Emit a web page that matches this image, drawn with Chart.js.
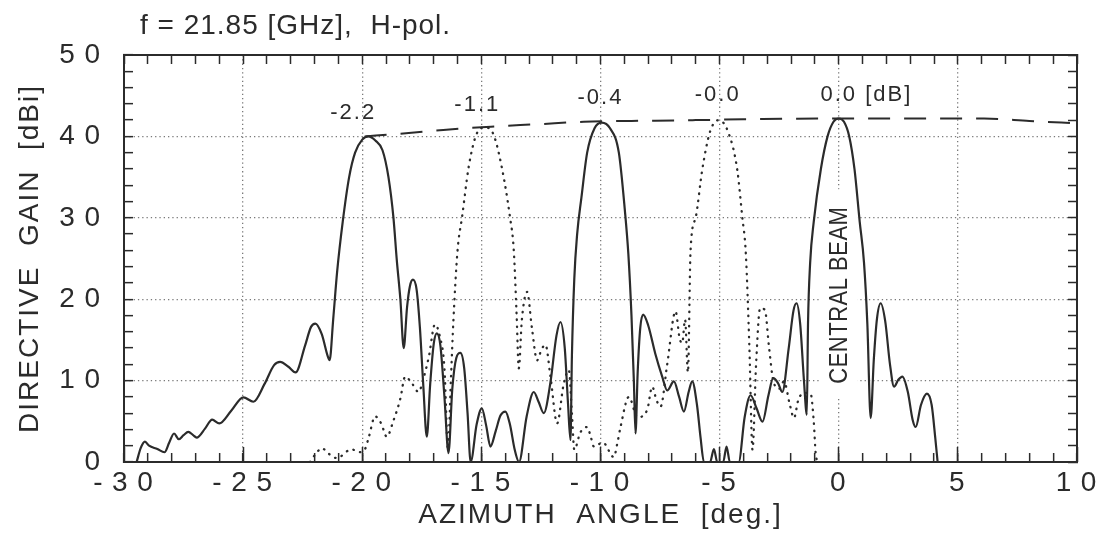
<!DOCTYPE html>
<html>
<head>
<meta charset="utf-8">
<script src="https://cdn.jsdelivr.net/npm/chart.js@4.4.1/dist/chart.umd.min.js"></script>
<style>
  html, body { margin: 0; padding: 0; background: #fff; }
  #wrap { width: 1101px; height: 550px; }
</style>
</head>
<body>
<div id="wrap"><canvas id="antenna" width="1101" height="550"></canvas></div>
<script>
// Ganancia directiva vs. angulo de azimut
var solidAngle = [-29.47, -29.3, -29.12, -28.95, -28.6, -28.3, -28.1, -27.9, -27.7, -27.5, -27.3, -27.1, -26.95, -26.6, -26.3, -26.0,
  -25.5, -24.99, -24.57, -24.1, -23.7, -23.45, -23.1, -22.8, -22.4, -22.15, -21.97, -21.7, -21.45, -21.37, -21.22, -21.05,
  -20.82, -20.55, -20.3, -20.0, -19.75, -19.45, -19.15, -18.9, -18.69, -18.55, -18.4, -18.26, -18.12, -18.0, -17.87, -17.72,
  -17.58, -17.44, -17.29, -17.15, -17.0, -16.87, -16.72, -16.55, -16.38, -16.22, -16.05, -15.88, -15.72, -15.58, -15.45,
  -15.2, -14.98, -14.8, -14.62, -14.4, -14.2, -13.99, -13.8, -13.6, -13.42, -13.1, -12.8, -12.6, -12.38, -12.1, -11.85,
  -11.68, -11.5, -11.36, -11.26, -11.2, -11.1, -10.98, -10.8, -10.56, -10.25, -9.95, -9.6, -9.23, -8.98, -8.83, -8.7, -8.6,
  -8.53, -8.44, -8.33, -8.21, -8.0, -7.7, -7.4, -7.2, -6.92, -6.7, -6.5, -6.3, -6.15, -5.95, -5.8, -5.66, -5.4, -5.24,
  -5.1, -4.85, -4.71, -4.57, -4.2, -3.95, -3.7, -3.45, -3.2, -2.95, -2.75, -2.55, -2.37, -2.1, -1.9, -1.77, -1.62, -1.46,
  -1.34, -1.29, -1.2, -1.05, -0.75, -0.47, -0.22, 0, 0.22, 0.44, 0.66, 0.88, 1.06, 1.2, 1.34, 1.47, 1.6, 1.76, 1.95, 2.15,
  2.32, 2.5, 2.67, 2.9, 3.1, 3.23, 3.45, 3.7, 3.9, 4.05, 4.15];
var solidGain = [0, 1.7, 2.5, 2.0, 1.6, 1.2, 2.4, 3.5, 2.8, 3.3, 3.7, 3.3, 3.0, 4.1, 5.2, 4.75,
  6.3, 7.95, 7.4, 9.6, 11.9, 12.3, 11.7, 11.0, 14.3, 16.6, 17.0, 15.7, 13.0, 12.5, 17.5, 23.5,
  29.5, 35.0, 38.0, 39.6, 40.0, 39.5, 38.3, 35.0, 30.0, 24.8, 20.0, 14.0, 19.0, 21.6, 22.4, 21.2,
  16.5, 9.5, 3.1, 9.5, 14.5, 15.8, 14.3, 8.0, 1.1, 9.0, 12.8, 13.4, 11.5, 6.0, 0,
  4.6, 6.6, 4.5, 1.9, 3.8, 5.7, 6.2, 4.6, 1.5, 0, 5.6, 8.6, 7.4, 6.0, 9.8, 15.5,
  17.2, 14.0, 7.0, 2.7, 13.0, 22.5, 28.0, 32.5, 38.0, 41.0, 41.7, 41.0, 38.0, 31.0, 25.5, 18.0, 10.0,
  3.5, 11.0, 16.5, 18.1, 16.8, 13.3, 10.4, 8.8, 9.9, 8.0, 6.2, 8.6, 9.9, 7.0, 3.0, 0, 0, 1.6,
  0, 0, 1.9, 0, 0, 5.5, 8.2, 6.6, 4.95, 8.2, 10.3, 9.7, 8.6, 14.0, 18.6, 19.5, 17.0, 10.0,
  5.8, 17.0, 24.5, 29.5, 36.0, 40.0, 41.8, 42.2, 41.8, 40.0, 36.0, 29.5, 24.5, 17.0, 5.4, 12.5, 17.5, 19.5, 17.3, 12.0,
  9.25, 10.1, 10.5, 8.6, 5.2, 4.3, 7.0, 8.4, 7.0, 3.0, 0];

var dottedAngle = [-22.2, -21.95, -21.7, -21.4, -21.1, -20.92, -20.65, -20.43, -20.15, -19.9, -19.73, -19.46, -19.2, -18.97,
  -18.7, -18.4, -18.2, -17.9, -17.64, -17.4, -17.2, -16.95, -16.75, -16.55, -16.4, -16.28, -16.18, -16.0, -15.81, -15.53,
  -15.2, -14.85, -14.5, -14.15, -13.8, -13.64, -13.52, -13.43, -13.3, -13.08, -12.88, -12.66, -12.48, -12.31, -12.1, -11.82,
  -11.55, -11.33, -11.2, -11.1, -10.85, -10.56, -10.4, -10.28, -9.9, -9.44, -9.3, -9.16, -8.81, -8.45, -8.04, -7.83, -7.65,
  -7.48, -7.2, -6.85, -6.68, -6.57, -6.45, -6.33, -6.22, -6.0, -5.73, -5.4, -5.03, -4.65, -4.26, -4.05, -3.9, -3.75, -3.62,
  -3.47, -3.3, -3.1, -2.93, -2.75, -2.5, -2.3, -2.05, -1.88, -1.7, -1.53, -1.35, -1.18, -1.05, -0.97, -0.9];
var dottedGain = [0, 1.0, 1.7, 1.0, 0.5, 0.65, 1.3, 1.55, 1.2, 1.5, 3.0, 5.6, 4.7, 3.1,
  5.0, 7.8, 10.5, 9.6, 8.6, 10.6, 13.0, 16.9, 15.5, 11.5, 1.5, 10.0, 17.0, 26.0, 30.1, 36.3,
  40.3, 41.1, 40.3, 36.3, 30.1, 26.0, 18.0, 11.5, 17.5, 20.9, 16.5, 12.5, 13.8, 14.4, 10.5, 4.75,
  9.5, 11.3, 6.0, 1.5, 3.6, 4.3, 3.0, 1.9, 2.4, 0.6, 2.2, 4.3, 8.0, 5.5, 6.4, 9.25, 7.6,
  6.8, 12.0, 18.5, 15.2, 14.6, 17.5, 11.0, 26.0, 30.1, 35.9, 40.6, 42.0, 40.6, 35.9, 30.1, 25.6, 14.0, 1.5,
  12.0, 18.9, 18.7, 14.2, 10.0, 9.0, 9.9, 7.0, 5.4, 7.6, 8.4, 8.5, 8.4, 5.0, 1.1, 0];

var envelopeAngle = [-19.9, -18.5, -16.6, -14.6, -12.6, -10.7, -8.7, -6.0, -4.0, 0, 4, 6.1, 8, 10];
var envelopeGain = [40.0, 40.3, 40.8, 41.2, 41.5, 41.8, 41.9, 42.0, 42.1, 42.2, 42.2, 42.2, 41.9, 41.6];

// Etiquetas de los picos (perdida relativa en dB)
var peakAngle = [-20.38, -15.17, -10.0, -5.08, 0];
var peakLevel = [42.9, 43.9, 44.7, 45.1, 45.1];
var peakText = ['-2.2', '-1.1', '-0.4', '-0.0', '0.0'];

var ink = '#2b2b2b';
var gridInk = '#7a7a7a';
var family = '"Liberation Sans", Arial, Helvetica, sans-serif';
Chart.defaults.font.family = family;
Chart.defaults.color = ink;

function toPoints(xs, ys) {
  return xs.map(function (x, i) { return { x: x, y: ys[i] }; });
}
function spaced(v) {
  return String(v).split('').join('\u2009');
}
function noEdgePadding(s) {
  s.paddingLeft = 0;
  s.paddingRight = 0;
  s.paddingTop = 0;
  s.paddingBottom = 0;
}

// Textos sobre el grafico: titulo, valores de pico y "CENTRAL BEAM"
var annotations = {
  id: 'annotations',
  beforeDraw: function (chart) {
    chart.ctx.letterSpacing = '2px';
  },
  beforeDatasetsDraw: function (chart) {
    var ctx = chart.ctx, x = chart.scales.x, y = chart.scales.y;
    var cx = x.getPixelForValue(0);
    var top = y.getPixelForValue(33.5), bottom = y.getPixelForValue(8);
    ctx.save();
    ctx.fillStyle = '#fff';
    ctx.fillRect(cx - 18, top, 37, bottom - top);
    ctx.translate(cx + 1, y.getPixelForValue(20.5));
    ctx.rotate(-Math.PI / 2);
    ctx.scale(1, 1.2);
    ctx.letterSpacing = '0.5px';
    ctx.font = '22px ' + family;
    ctx.fillStyle = ink;
    ctx.textAlign = 'center';
    ctx.textBaseline = 'middle';
    ctx.fillText('CENTRAL BEAM', 0, 0);
    ctx.restore();
  },
  afterDatasetsDraw: function (chart) {
    var ctx = chart.ctx, x = chart.scales.x, y = chart.scales.y;
    ctx.save();
    ctx.fillStyle = ink;
    ctx.textBaseline = 'middle';
    ctx.letterSpacing = '1px';
    ctx.font = '28px ' + family;
    ctx.textAlign = 'left';
    ctx.fillText('f = 21.85 [GHz],  H-pol.', chart.chartArea.left + 16, 26);
    ctx.letterSpacing = '2px';
    ctx.font = '22px ' + family;
    for (var i = 0; i < peakText.length; i++) {
      var px = x.getPixelForValue(peakAngle[i]);
      var py = y.getPixelForValue(peakLevel[i]);
      if (i === peakText.length - 1) {
        var w = ctx.measureText(peakText[i]).width;
        ctx.textAlign = 'left';
        ctx.fillText(peakText[i] + ' [dB]', px - w / 2, py);
      } else {
        ctx.textAlign = 'center';
        ctx.fillText(peakText[i], px, py);
      }
    }
    ctx.restore();
  }
};

var ctx = document.getElementById('antenna').getContext('2d');
var antennaChart = new Chart(ctx, {
  type: 'line',
  data: {
    datasets: [{
      label: 'beam',
      data: toPoints(solidAngle, solidGain),
      borderColor: ink,
      borderWidth: 2.2,
      pointRadius: 0,
      cubicInterpolationMode: 'monotone',
      fill: false
    }, {
      label: 'adjacent beam',
      data: toPoints(dottedAngle, dottedGain),
      borderColor: ink,
      borderWidth: 2.3,
      borderDash: [0.5, 6.5],
      borderCapStyle: 'round',
      pointRadius: 0,
      cubicInterpolationMode: 'monotone',
      fill: false
    }, {
      label: 'envelope',
      data: toPoints(envelopeAngle, envelopeGain),
      borderColor: ink,
      borderWidth: 2,
      borderDash: [22, 14],
      pointRadius: 0,
      cubicInterpolationMode: 'monotone',
      fill: false
    }]
  },
  options: {
    responsive: false,
    animation: false,
    layout: { padding: 0 },
    plugins: {
      legend: { display: false },
      tooltip: { enabled: false }
    },
    scales: {
      x: {
        type: 'linear',
        position: 'bottom',
        weight: 1,
        min: -30,
        max: 10,
        afterFit: function (s) { s.height = 88; noEdgePadding(s); },
        ticks: {
          stepSize: 1,
          autoSkip: false,
          maxRotation: 0,
          padding: 13,
          color: ink,
          font: { size: 28 },
          callback: function (v) { return v % 5 === 0 ? spaced(v) : ''; }
        },
        grid: {
          color: function (c) {
            var v = c.tick.value;
            return (v % 5 === 0 && v > -30 && v < 10) ? gridInk : 'rgba(0,0,0,0)';
          },
          lineWidth: 1.3,
          tickLength: -9,
          tickColor: ink,
          tickWidth: 1.5,
          tickBorderDash: []
        },
        border: { color: ink, width: 2, dash: [1.3, 3] },
        title: {
          display: true,
          text: 'AZIMUTH  ANGLE  [deg.]',
          color: ink,
          font: { size: 28 },
          padding: { top: 0, bottom: 18 }
        }
      },
      // marcas largas en los valores principales del eje inferior
      xMajor: {
        type: 'linear',
        position: 'bottom',
        weight: 0,
        min: -30,
        max: 10,
        afterFit: function (s) { s.height = 0; noEdgePadding(s); },
        ticks: { stepSize: 5, display: false },
        grid: {
          drawOnChartArea: false,
          tickLength: -15,
          tickColor: ink,
          tickWidth: 1.5
        },
        border: { display: false }
      },
      x2: {
        type: 'linear',
        position: 'top',
        min: -30,
        max: 10,
        afterFit: function (s) { s.height = 55; noEdgePadding(s); },
        ticks: { stepSize: 1, display: false },
        grid: {
          drawOnChartArea: false,
          tickLength: -9,
          tickColor: ink,
          tickWidth: 1.5
        },
        border: { color: ink, width: 2 }
      },
      y: {
        position: 'left',
        min: 0,
        max: 50,
        afterFit: function (s) { s.width = 124; noEdgePadding(s); },
        ticks: {
          stepSize: 2,
          autoSkip: false,
          padding: 31,
          color: ink,
          font: { size: 28 },
          callback: function (v) { return v % 10 === 0 ? spaced(v) : ''; }
        },
        grid: {
          color: function (c) {
            var v = c.tick.value;
            return (v % 10 === 0 && v > 0 && v < 50) ? gridInk : 'rgba(0,0,0,0)';
          },
          lineWidth: 1.3,
          tickLength: -9,
          tickColor: ink,
          tickWidth: 1.5,
          tickBorderDash: []
        },
        border: { color: ink, width: 2, dash: [1.3, 3] },
        title: {
          display: true,
          text: 'DIRECTIVE  GAIN  [dBi]',
          color: ink,
          font: { size: 28 },
          padding: { top: 13, bottom: 0 }
        }
      },
      y2: {
        position: 'right',
        min: 0,
        max: 50,
        afterFit: function (s) { s.width = 24; noEdgePadding(s); },
        ticks: { stepSize: 2, display: false },
        grid: {
          drawOnChartArea: false,
          tickLength: -9,
          tickColor: ink,
          tickWidth: 1.5
        },
        border: { color: ink, width: 2 }
      }
    }
  },
  plugins: [annotations]
});
</script>
</body>
</html>
